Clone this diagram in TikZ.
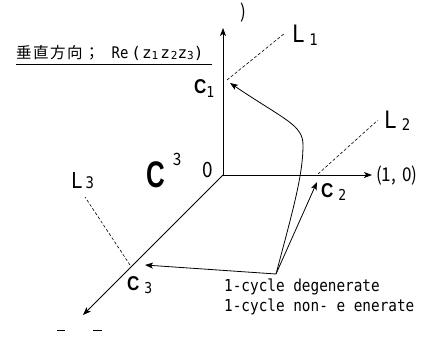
\documentclass[tikz,border=0pt]{standalone}
\usepackage{fontspec}
\setmainfont{DejaVu Sans Mono}
\newfontfamily\jp{Noto Sans CJK JP}
\newfontfamily\goth[FakeStretch=0.9]{Noto Sans CJK JP}
\newfontfamily\mono[FakeStretch=0.87]{DejaVu Sans Mono}
\newfontfamily\cbfA[FakeStretch=0.7]{Liberation Sans}
\newfontfamily\cbfB[FakeStretch=0.85]{Liberation Sans}
\usetikzlibrary{arrows.meta}
\newcommand\fs[1]{\fontsize{#1}{#1}\selectfont}
\begin{document}
\begin{tikzpicture}[x=1pt,y=-1pt,
  axis/.style={line width=0.9pt,-{Stealth[length=8pt,width=6pt,inset=2pt]}},
  conn/.style={line width=0.8pt,-{Stealth[length=8pt,width=6pt,inset=2pt]}},
  dashline/.style={line width=0.6pt,dash pattern=on 3pt off 2pt},
  lbl/.style={inner sep=0pt,font=\mono},
  clbl/.style={inner sep=0pt,font=\cbfB\bfseries\fs{20}},
]
\useasboundingbox (0,0) rectangle (433,343);
% axes
\coordinate (O) at (223,175);
\coordinate (Ytip) at (223,28);
\coordinate (Xtip) at (372,175);
\coordinate (Ztip) at (83,315);
\draw[axis] (O) -- (Ytip);
\draw[axis] (O) -- (Xtip);
\draw[axis] (O) -- (Ztip);
% dashed lines L1, L2, L3
\coordinate (L1a) at (227,80);
\coordinate (L1b) at (285,33);
\coordinate (L2a) at (318,174);
\coordinate (L2b) at (378,120);
\coordinate (L3a) at (130,265);
\coordinate (L3b) at (85,197);
\draw[dashline] (L1a) -- (L1b);
\draw[dashline] (L2a) -- (L2b);
\draw[dashline] (L3a) -- (L3b);
% labels
\node[lbl,anchor=base west] (L1) at (292,42) {\fs{24}L\hspace{4.5pt}\raisebox{-3pt}{\fs{16}1}};
\node[lbl,anchor=base west] (L2) at (384,128) {\fs{24}L\hspace{5pt}\raisebox{-2pt}{\fs{16}2}};
\node[lbl,anchor=base west] (L3) at (71,188) {\fs{22}L\hspace{3pt}\raisebox{0pt}{\fs{16}3}};
\node[clbl,anchor=base west] (C1) at (194,93) {C\hspace{0pt}\raisebox{-4pt}{\mono\mdseries\fs{15}1}};
\node[clbl,anchor=base west] (C2) at (321,197) {C\hspace{5pt}\raisebox{-3pt}{\mono\mdseries\fs{15}2}};
\node[clbl,anchor=base west] (C3) at (127,290) {C\hspace{5pt}\raisebox{-3pt}{\mono\mdseries\fs{15}3}};
\node[inner sep=0pt,anchor=base west] (Cspace) at (146,187) {{\cbfA\bfseries\fs{37}C}\hspace{8pt}\raisebox{22pt}{\goth\fs{17}3}};
\node[inner sep=0pt,anchor=base,font=\goth] (zero) at (207.5,177) {\fs{21}0};
\node[inner sep=0pt,anchor=west,font=\goth] (onezero) at (376,176) {\fs{19}(1,\hspace{6pt}0)};
\node[inner sep=0pt,anchor=center,font=\goth] (paren) at (243,12.5) {\fs{19})};
% heading
\node[inner sep=0pt,anchor=base west] (head) at (16,58) {{\jp\fs{15.5}垂\hspace{1.5pt}直\hspace{1.5pt}方\hspace{1.5pt}向\hspace{1.5pt}；}\hspace{12pt}{\mono\fs{16}Re}\hspace{3pt}{\rmfamily\fs{16}(\hspace{1pt}z\raisebox{-1pt}{\fs{11}1}\hspace{2pt}z\hspace{1pt}\raisebox{-1pt}{\fs{11}2}z\raisebox{-1pt}{\fs{11}3})}};
\draw[line width=0.8pt] (16,64) -- (212,64);
% cycle arrows
\coordinate (P) at (276,274);
\coordinate (c1tip) at (230,83);
\coordinate (c2tip) at (317,182);
\coordinate (c3tip) at (145,265);
\draw[conn] (P) -- (c3tip);
\draw[conn] (P) -- (c2tip);
\draw[conn] (P) .. controls (293,210) and (303,175) .. (303,145) .. controls (303,125) and (285,120) .. (c1tip);
\node[lbl,anchor=base west] (t1) at (224,291) {\fs{16.5}1-cycle degenerate};
\node[lbl,anchor=base west] (t2) at (224,311) {\fs{16.5}1-cycle non- e enerate};
% stray marks
\draw[line width=0.9pt] (57,330) -- (65,330);
\draw[line width=0.9pt] (93,330) -- (102,330);
\end{tikzpicture}
\end{document}
